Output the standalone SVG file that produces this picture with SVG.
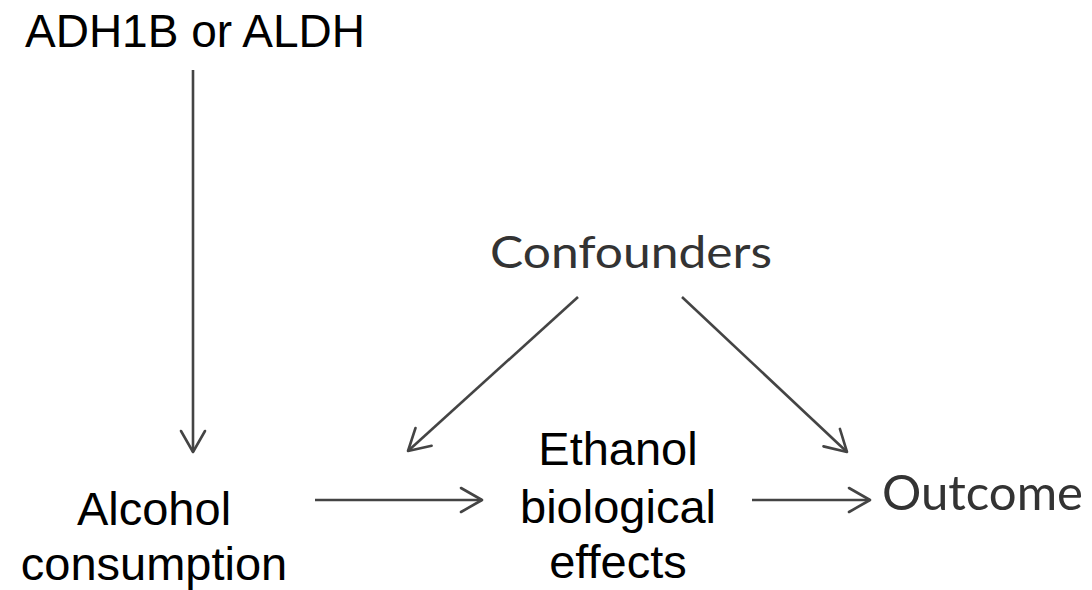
<svg xmlns="http://www.w3.org/2000/svg" width="1092" height="590" viewBox="0 0 1092 590">
<defs>
<marker id="ah" viewBox="0 0 26 28" refX="23" refY="14" markerWidth="26" markerHeight="28" markerUnits="userSpaceOnUse" orient="auto">
<path d="M2,2 L23,14 L2,26" fill="none" stroke="#444" stroke-width="2.6" stroke-linecap="round" stroke-linejoin="round"/>
</marker>
<style>
.a{font-family:"Liberation Sans",Arial,sans-serif;font-size:47px;fill:#000;text-anchor:middle}
.c{font-family:Lato,"Open Sans",sans-serif;fill:#333}
.e{stroke:#444;stroke-width:2.6;fill:none;marker-end:url(#ah)}
</style>
</defs>
<rect width="1092" height="590" fill="#fff"/>
<g id="adh"><text class="a" x="25" y="47" style="text-anchor:start;font-size:46px">ADH1B or ALDH</text></g>
<g id="confounders"><text class="c" x="490" y="268" font-size="44" textLength="282" lengthAdjust="spacingAndGlyphs">Confounders</text></g>
<g id="alcohol"><text class="a" x="154" y="525">Alcohol</text><text class="a" x="154" y="580">consumption</text></g>
<g id="ethanol"><text class="a" x="618" y="465">Ethanol</text><text class="a" x="618" y="523">biological</text><text class="a" x="618" y="578">effects</text></g>
<g id="outcome"><text class="c" x="882" y="510" font-size="48" textLength="201" lengthAdjust="spacingAndGlyphs">Outcome</text></g>
<g id="connectors">
<path class="e" d="M193,70 L193,452"/>
<path class="e" d="M578,297 L408,451"/>
<path class="e" d="M682,297 L847,452"/>
<path class="e" d="M315,500 L482,500"/>
<path class="e" d="M752,500 L870,500"/>
</g>
</svg>
